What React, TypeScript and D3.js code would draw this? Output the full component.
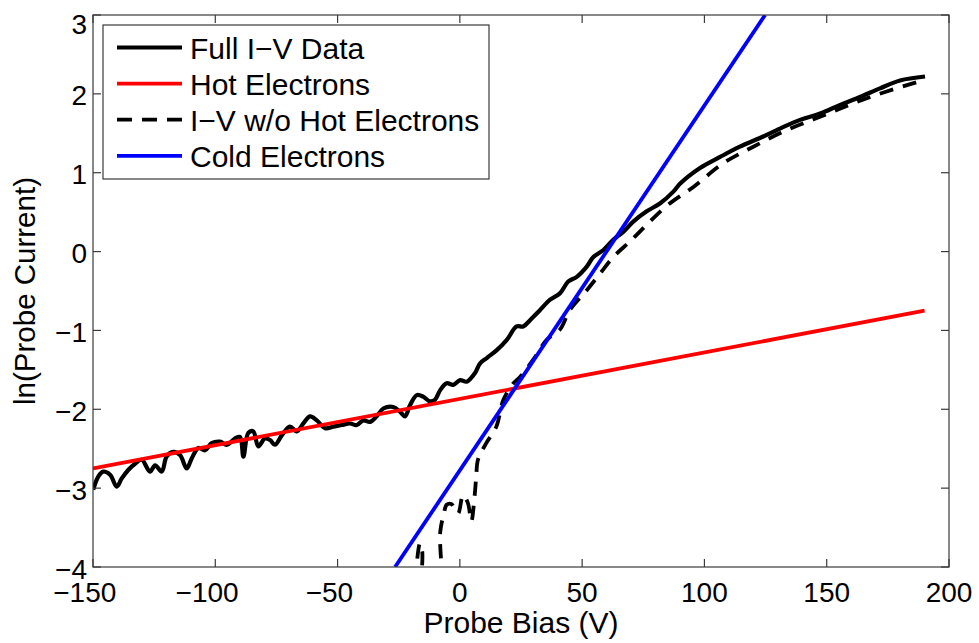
import React from "react";
import * as d3 from "d3";

// ---- Data ----
const fullV = [
  -149.9, -147.8, -145.8, -143.0, -140.3, -138.3, -135.6, -132.8, -130.1, -126.7,
  -124.6, -121.9, -119.9, -117.2, -114.4, -111.7, -109.6, -106.9, -104.2, -101.5,
  -98.1, -95.3, -91.9, -89.9, -88.5, -86.5, -84.5, -82.4, -79.7, -77.6,
  -75.6, -72.8, -69.5, -66.7, -64.0, -61.3, -58.5, -55.1, -51.7, -48.3,
  -44.9, -42.2, -39.5, -36.7, -34.0, -31.3, -27.2, -24.5, -22.4, -20.4,
  -17.6, -15.0, -12.2, -10.2, -8.1, -5.4, -2.7, 0.1, 2.8, 6.2,
  8.2, 11.0, 15.1, 19.2, 23.2, 25.9, 28.7, 32.8, 36.9, 40.9,
  44.3, 47.8, 51.9, 54.6, 58.7, 62.7, 66.8, 70.9, 76.4, 81.8,
  87.3, 90.0, 98.2, 106.4, 114.5, 122.7, 130.9, 139.1, 147.3, 155.5,
  163.6, 171.8, 180.0, 190.2,
];
const fullLnI = [
  -3.02, -2.85, -2.79, -2.83, -2.98, -2.88, -2.77, -2.69, -2.64, -2.79,
  -2.71, -2.79, -2.60, -2.54, -2.58, -2.75, -2.62, -2.49, -2.52, -2.43,
  -2.41, -2.45, -2.37, -2.35, -2.60, -2.30, -2.28, -2.47, -2.37, -2.39,
  -2.45, -2.33, -2.22, -2.28, -2.18, -2.09, -2.14, -2.24, -2.22, -2.20,
  -2.18, -2.20, -2.14, -2.16, -2.09, -1.99, -1.97, -2.03, -2.09, -1.95,
  -1.82, -1.84, -1.90, -1.88, -1.76, -1.67, -1.69, -1.63, -1.65, -1.54,
  -1.42, -1.35, -1.25, -1.12, -0.95, -0.95, -0.87, -0.74, -0.61, -0.53,
  -0.38, -0.32, -0.19, -0.07, 0.02, 0.15, 0.25, 0.38, 0.51, 0.61,
  0.76, 0.86, 1.06, 1.20, 1.33, 1.44, 1.56, 1.67, 1.75, 1.86,
  1.96, 2.07, 2.17, 2.22,
];

const coldOnlyV = [
  -18.5, -17.6, -16.3, -15.4, -14.6, -8.6, -8.0, -6.5, -5.4, -3.5,
  -2.7, -0.7, 1.3, 3.3, 4.7, 6.0, 6.7, 7.4, 10.8, 14.9,
  17.8, 21.9, 24.6, 30.0, 35.5, 40.9, 45.0, 51.9, 57.3, 62.7,
  69.6, 76.4, 84.6, 95.5, 107.7, 120.0, 133.6, 147.3, 160.9, 174.5,
  190.2,
];
const coldOnlyLnI = [
  -4.5, -3.95, -3.70, -3.80, -4.5, -4.5, -3.55, -3.32, -3.21, -3.20,
  -3.23, -3.32, -3.09, -3.19, -3.42, -3.11, -2.85, -2.64, -2.43, -2.22,
  -1.88, -1.67, -1.59, -1.37, -1.12, -0.99, -0.74, -0.49, -0.28, -0.07,
  0.13, 0.34, 0.58, 0.82, 1.12, 1.33, 1.54, 1.71, 1.88, 2.03,
  2.18,
];

const hotV = [-150, 190];
const hotLnI = [-2.75, -0.75];

const coldV = [-26.5, 124.8];
const coldLnI = [-4, 3];

const xTicks = [-150, -100, -50, 0, 50, 100, 150, 200];
const yTicks = [-4, -3, -2, -1, 0, 1, 2, 3];

const legendLabels = ["Full I\u2212V Data", "Hot Electrons", "I\u2212V w/o Hot Electrons", "Cold Electrons"];
const legendColors = ["#000000", "#ff0000", "#000000", "#0000ff"];
const legendDashed = [false, false, true, false];

const xLabel = "Probe Bias (V)";
const yLabel = "ln(Probe Current)";

// ---- Layout ----
const W = 979;
const H = 643;
const left = 93;
const right = 949;
const top = 15;
const bottom = 567;
const FONT = "'Liberation Sans', Arial, Helvetica, sans-serif";
const TICK_FS = 28;
const AXIS_COLOR = "#3a3a3a";
const DASH = "14 10";

export default function App() {
  const x = d3.scaleLinear().domain([-150, 200]).range([left, right]);
  const y = d3.scaleLinear().domain([-4, 3]).range([bottom, top]);

  const line = d3
    .line<[number, number]>()
    .x((d) => x(d[0]))
    .y((d) => y(d[1]))
    .curve(d3.curveCatmullRom.alpha(0.5));

  const straight = d3
    .line<[number, number]>()
    .x((d) => x(d[0]))
    .y((d) => y(d[1]));

  const zip = (a: number[], b: number[]) => a.map((v, i) => [v, b[i]] as [number, number]);

  const fullPath = line(zip(fullV, fullLnI)) || "";
  const coldOnlyPath = line(zip(coldOnlyV, coldOnlyLnI)) || "";
  const hotPath = straight(zip(hotV, hotLnI)) || "";
  const coldPath = straight(zip(coldV, coldLnI)) || "";

  const tickLen = 8;
  const digitW = 0.556 * TICK_FS;

  // legend geometry
  const lgX = 103;
  const lgY = 25;
  const lgW = 386;
  const lgH = 154;
  const rowBase = 58.5;
  const rowStep = 36.1;

  return (
    <svg
      width={W}
      height={H}
      viewBox={`0 0 ${W} ${H}`}
      style={{ position: "absolute", left: 0, top: 0, background: "#ffffff" }}
      fontFamily={FONT}
    >
      <defs>
        <clipPath id="plotClip">
          <rect x={left} y={top} width={right - left} height={bottom - top} />
        </clipPath>
      </defs>
      <rect x={0} y={0} width={W} height={H} fill="#ffffff" />

      {/* data */}
      <g clipPath="url(#plotClip)" fill="none" strokeLinejoin="round" strokeLinecap="butt">
        <path d={fullPath} stroke="#000" strokeWidth={4.2} />
        <path d={hotPath} stroke="#ff0000" strokeWidth={3.8} />
        <path d={coldOnlyPath} stroke="#000" strokeWidth={3.8} strokeDasharray={DASH} />
        <path d={coldPath} stroke="#0000ff" strokeWidth={3.8} />
      </g>

      {/* axes box */}
      <rect
        x={left}
        y={top}
        width={right - left}
        height={bottom - top}
        fill="none"
        stroke={AXIS_COLOR}
        strokeWidth={1.2}
      />

      {/* x ticks */}
      {xTicks.map((t) => {
        const px = x(t);
        const digits = String(Math.abs(t)).length;
        return (
          <g key={`xt${t}`}>
            <line x1={px} x2={px} y1={bottom} y2={bottom - tickLen} stroke={AXIS_COLOR} strokeWidth={1.2} />
            <line x1={px} x2={px} y1={top} y2={top + tickLen} stroke={AXIS_COLOR} strokeWidth={1.2} />
            <text
              x={px + (digits * digitW) / 2}
              y={bottom + 35}
              fontSize={TICK_FS}
              textAnchor="end"
              fill="#000"
            >
              {t < 0 ? `\u2212${Math.abs(t)}` : `${t}`}
            </text>
          </g>
        );
      })}

      {/* y ticks */}
      {yTicks.map((t) => {
        const py = y(t);
        const labelY = Math.max(py + 11.5, 33.5);
        return (
          <g key={`yt${t}`}>
            <line x1={left} x2={left + tickLen} y1={py} y2={py} stroke={AXIS_COLOR} strokeWidth={1.2} />
            <line x1={right} x2={right - tickLen} y1={py} y2={py} stroke={AXIS_COLOR} strokeWidth={1.2} />
            <text x={87} y={labelY} fontSize={TICK_FS} textAnchor="end" fill="#000">
              {t < 0 ? `\u2212${Math.abs(t)}` : `${t}`}
            </text>
          </g>
        );
      })}

      {/* axis labels */}
      <text x={(left + right) / 2} y={633} fontSize={30} textAnchor="middle" fill="#000">
        {xLabel}
      </text>
      <text
        transform={`translate(35, ${(top + bottom) / 2}) rotate(-90)`}
        fontSize={29.5}
        textAnchor="middle"
        fill="#000"
      >
        {yLabel}
      </text>

      {/* legend */}
      <g>
        <rect x={lgX} y={lgY} width={lgW} height={lgH} fill="#ffffff" stroke={AXIS_COLOR} strokeWidth={1.2} />
        {legendLabels.map((lab, i) => {
          const base = rowBase + i * rowStep;
          return (
            <g key={lab}>
              <line
                x1={117}
                x2={182}
                y1={base - 11}
                y2={base - 11}
                stroke={legendColors[i]}
                strokeWidth={3.8}
                strokeDasharray={legendDashed[i] ? "15 10" : undefined}
              />
              <text x={190} y={base} fontSize={30} fill="#000">
                {lab}
              </text>
            </g>
          );
        })}
      </g>
    </svg>
  );
}
